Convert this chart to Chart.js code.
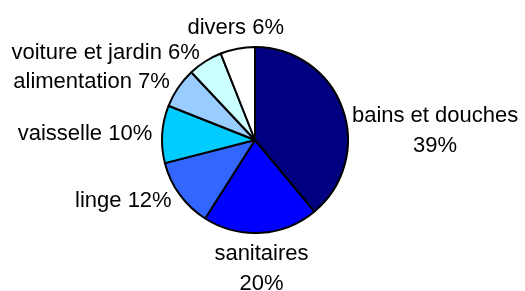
<!DOCTYPE html>
<html>
<head>
<meta charset="utf-8">
<script src="https://cdn.jsdelivr.net/npm/chart.js@4/dist/chart.umd.min.js"></script>
<style>
  html, body { margin: 0; padding: 0; background: #fff; }
  #wrap { width: 525px; height: 291px; position: relative; }
</style>
</head>
<body>
<div id="wrap"><canvas id="camembert"></canvas></div>
<script>
// ---------------- DONNÉES ----------------
const categories = ['bains et douches', 'sanitaires', 'linge', 'vaisselle', 'alimentation', 'voiture et jardin', 'divers'];
const pourcentages = [39, 20, 12, 10, 7, 6, 6];
const couleurs = ['#000080', '#0000FF', '#3366FF', '#00CCFF', '#99CCFF', '#CCFFFF', '#FFFFFF'];

// Étiquettes dessinées autour du camembert
const etiquettes = {
    id: 'etiquettes',
    afterDatasetsDraw(chart) {
        const ctx = chart.ctx;
        const meta = chart.getDatasetMeta(0);
        const lh = 30;
        ctx.save();
        ctx.font = '22px "Liberation Sans", Arial, sans-serif';
        ctx.fillStyle = '#000';
        meta.data.forEach((arc, i) => {
            const mid = (arc.startAngle + arc.endAngle) / 2;
            const cos = Math.cos(mid), sin = Math.sin(mid);
            const r = arc.outerRadius + 10;
            const x = arc.x + cos * r;
            const y = arc.y + sin * r;
            const pct = pourcentages[i] + '%';
            // à droite : nom et pourcentage sur deux lignes
            const lignes = cos > 0 ? [categories[i], pct] : [categories[i] + ' ' + pct];

            if (Math.abs(cos) < 0.3) {
                ctx.textAlign = 'center';
                if (sin > 0) {
                    ctx.textBaseline = 'top';
                    lignes.forEach((t, k) => ctx.fillText(t, x, y + k * lh));
                } else {
                    ctx.textBaseline = 'bottom';
                    lignes.forEach((t, k) => ctx.fillText(t, x, y - (lignes.length - 1 - k) * lh));
                }
            } else if (lignes.length === 1) {
                ctx.textBaseline = 'middle';
                ctx.textAlign = cos > 0 ? 'left' : 'right';
                ctx.fillText(lignes[0], x, y);
            } else {
                // bloc de plusieurs lignes : coin haut du bloc au point d'ancrage
                const larg = Math.max(...lignes.map(t => ctx.measureText(t).width));
                const cx = cos > 0 ? x + larg / 2 : x - larg / 2;
                ctx.textAlign = 'center';
                ctx.textBaseline = 'top';
                lignes.forEach((t, k) => ctx.fillText(t, cx, y + k * lh));
            }
        });
        ctx.restore();
    }
};

new Chart(document.getElementById('camembert').getContext('2d'), {
    type: 'pie',
    data: {
        labels: categories,
        datasets: [{
            data: pourcentages,
            backgroundColor: couleurs,
            borderColor: '#000',
            borderWidth: 2
        }]
    },
    options: {
        responsive: true,
        maintainAspectRatio: false,
        animation: false,
        radius: 93,
        layout: { padding: { left: 0, right: 15, top: 0, bottom: 11 } },
        plugins: {
            legend: { display: false },
            tooltip: { enabled: false }
        }
    },
    plugins: [etiquettes]
});
</script>
</body>
</html>
